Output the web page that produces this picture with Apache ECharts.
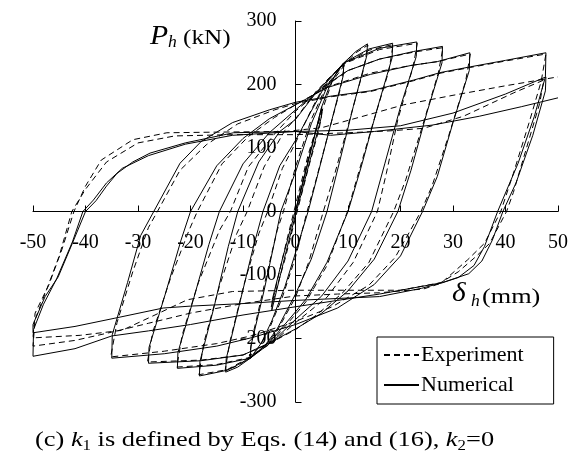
<!DOCTYPE html>
<html>
<head>
<meta charset="utf-8">
<script src="https://cdn.jsdelivr.net/npm/echarts@6/dist/echarts.min.js"></script>
<style>
  html, body { margin: 0; padding: 0; background: #fff; }
  #chart { width: 579px; height: 464px; }
</style>
</head>
<body>
<div id="chart"></div>
<script>
// Axis ranges: [min, max, interval]
var xRange = [-50, 50, 10];
var yRange = [-300, 300, 100];

var seriesNames = ['Experiment', 'Numerical'];

// Measured load–displacement history [delta_h (mm), P_h (kN)]
var experiment = [
  [0,0],[2,70],[3.5,118],[5.2,162],[4.5,130],[2.5,70],[0,-10],[-2,-75],[-4.6,-150],[-3.5,-110],[-1.5,-40],[0,10],[2.5,92],[5.2,162],
  [7,205],[9.3,230],
  [8.6,195],[6,115],[3.6,40],[2.2,0],[0,-72],[-2.5,-135],[-5,-185],[-7,-215],[-8.8,-228],
  [-8,-190],[-5.5,-100],[-3.5,-30],[-2.3,0],[0,70],[3,145],[6,200],[9.3,232],[11.5,250],[13.8,262],
  [13,225],[10.5,150],[7.5,60],[5.3,0],[2.5,-80],[0,-135],[-3.5,-188],[-6,-215],[-8.8,-230],[-11,-243],[-13.4,-250],
  [-12.5,-205],[-9.8,-115],[-7,-35],[-5.3,0],[-2.5,68],[0,108],[3,160],[6,207],[9.3,233],[14,254],[18.6,263],
  [17.8,222],[14.8,140],[11.8,55],[9.9,0],[6,-85],[2,-142],[0,-162],[-4,-200],[-8.8,-230],[-13,-249],[-18.4,-257],
  [-17.5,-208],[-14.5,-118],[-11.2,-35],[-9.2,0],[-6,70],[-2,128],[0,146],[4,190],[9.3,233],[16,255],[23.2,265],
  [22.4,228],[19.5,145],[17.3,60],[15.6,0],[11,-80],[6,-135],[0,-175],[-4,-204],[-8.8,-230],[-15,-241],[-22.6,-245],
  [-21.6,-195],[-18.5,-112],[-14.5,-30],[-12.4,0],[-9,70],[-4,122],[0,158],[5,193],[10,222],[16,240],[22.5,251],[28.1,258],
  [27.2,218],[24.2,135],[21,50],[18.7,0],[14,-80],[9,-128],[4,-163],[0,-186],[-5,-208],[-10,-226],[-18,-234],[-28.2,-237],
  [-27.2,-190],[-23.8,-105],[-20.3,-30],[-18.7,0],[-14,75],[-9,118],[-4,148],[0,168],[6,196],[14.3,218],[22,230],[27,236],[33.3,248],
  [32.4,205],[29.2,120],[26,40],[23.9,0],[19,-72],[14,-116],[7,-150],[0,-173],[-8,-195],[-15,-208],[-25,-220],[-35.2,-229],
  [-34,-175],[-31,-95],[-28,-25],[-26.3,0],[-22,65],[-17,105],[-11,138],[-4,160],[0,170],[7,181],[14.3,189],[22.5,206],[27.7,218],[33.4,227],[40,237],[47.7,248],
  [46.8,205],[44.5,140],[41.5,60],[39.1,0],[36,-50],[32.8,-76],[27.7,-113],[24.4,-122],[16,-128],[8,-130],[0,-133],[-10,-145],[-20,-160],[-28,-176],[-35,-190],[-42,-203],[-50,-212],
  [-49.6,-170],[-47.5,-125],[-45,-70],[-42.6,0],[-40,35],[-36,78],[-30,108],[-23,119],[-12,121],[0,121],[10,124],[18,127],[24.4,131],[32,150],[41.6,187],[47.3,207],
  [46.5,170],[44,100],[41.5,30],[40.2,0],[37,-50],[34.5,-70],[31,-95],[27.7,-112],[20,-124],[10,-124],[0,-124],[-12,-126],[-20.6,-139],[-26,-160],[-33,-187],[-41,-195],[-50,-199],
  [-49.6,-160],[-47,-116],[-44.5,-60],[-42.2,0],[-40,40],[-37,81],[-31,113],[-24.5,124],[-15,125],[-2,126],[5,132],[12,148],[20.6,168],[30,183],[40,198],[50,212]
];

// Computed load–displacement history [delta_h (mm), P_h (kN)]
var numerical = [
  [0,0],[1.5,48],[3,98],[5,165],[4.9,148],[3,88],[1,25],[0,-5],[-2,-70],[-4.5,-155],[-4.4,-138],[-2.5,-75],[0,2],[2,66],[3.5,115],[5,165],
  [6.5,198],[8,221],[9.2,234],
  [9.1,214],[6.8,140],[4.3,60],[2.4,0],[0,-65],[-2,-118],[-4.5,-172],[-6.5,-207],[-8.6,-231],
  [-8.5,-212],[-6,-125],[-4,-48],[-2.8,0],[0,62],[3,138],[6,196],[9.2,234],[11.5,252],[13.7,264],
  [13.6,246],[11,165],[8.3,75],[6,0],[3,-75],[0,-130],[-3.5,-185],[-6,-213],[-8.6,-231],[-11,-245],[-13.3,-253],
  [-13.2,-232],[-10.5,-140],[-8,-55],[-6.2,0],[-3,72],[0,112],[3,158],[6,204],[9.2,234],[14,256],[18.5,265],
  [18.4,242],[15.5,160],[12.5,70],[10,0],[6,-80],[2,-138],[0,-158],[-4,-197],[-8.6,-231],[-13,-250],[-18.3,-259],
  [-18.2,-236],[-15.5,-150],[-12.8,-55],[-11,0],[-7,78],[-3,126],[0,145],[4,188],[9.2,234],[16,257],[23.1,267],
  [23,244],[20,165],[17,75],[14.5,0],[10,-78],[5,-133],[0,-170],[-4,-202],[-8.6,-231],[-15,-242],[-22.5,-247],
  [-22.4,-222],[-19.5,-140],[-16.5,-52],[-14.5,0],[-10,75],[-5,124],[0,160],[5,195],[10,222],[16,240],[22.5,252],[28,260],
  [27.9,234],[25,155],[22,65],[19.5,0],[15,-75],[10,-125],[5,-160],[0,-185],[-5,-207],[-10,-226],[-18,-235],[-28,-239],
  [-27.9,-214],[-24.8,-130],[-21.8,-45],[-20,0],[-15,72],[-10,115],[-5,146],[0,168],[6,195],[14.3,216],[22,230],[27,236],[33.2,250],
  [33.1,222],[30,140],[27,55],[24.2,0],[20,-70],[15,-115],[8,-152],[0,-178],[-8,-198],[-15,-212],[-25,-224],[-35,-231],
  [-34.9,-194],[-32,-112],[-29.5,-38],[-27,0],[-22,76],[-18,110],[-12,140],[-5,160],[0,172],[7,182],[14.3,190],[22.5,207],[27.7,219],[33.4,228],[40,238],[47.7,250],
  [47.6,212],[45.5,150],[42.4,76],[38.5,0],[36,-55],[34,-85],[31,-104],[28,-112],[24,-118],[16,-130],[8,-140],[0,-150],[-10,-163],[-20,-178],[-28,-188],[-35,-196],[-42,-216],[-50,-228],
  [-49.9,-186],[-48,-146],[-45.5,-106],[-42.5,-48],[-40.5,0],[-38.5,18],[-36,45],[-33,68],[-28,88],[-21,106],[-12,120],[0,126],[10,128],[20,135],[30,155],[40,185],[47.7,212],
  [47.6,190],[45.2,120],[42,45],[39.5,0],[37.5,-45],[35.5,-78],[33,-98],[28,-112],[24,-121],[16,-134],[8,-137],[0,-140],[-10,-145],[-20,-149],[-25.2,-152],[-34.4,-168],[-42,-181],[-50,-191],
  [-50,-178],[-47.7,-134],[-45.2,-103],[-42.5,-50],[-40,0],[-38,17],[-36,40],[-34,60],[-31,78],[-27.7,92],[-21,108],[-11.8,124],[0,126],[6.7,120],[15,126],[26,136],[35,150],[43,165],[50,179]
];

var serif = '"Liberation Serif", "Times New Roman", serif';
var chart = echarts.init(document.getElementById('chart'), null, { renderer: 'canvas' });

// grid box in pixels; the axes are shifted onto the zero lines with offsets
var gridBox = { left: 33, top: 21, width: 525, height: 381 };
var zeroX = gridBox.left + gridBox.width * (0 - xRange[0]) / (xRange[1] - xRange[0]);
var zeroY = gridBox.top + gridBox.height * (yRange[1] - 0) / (yRange[1] - yRange[0]);

var axisCommon = {
  type: 'value',
  axisLine: { onZero: false, lineStyle: { color: '#000', width: 1 } },
  axisTick: { show: true, inside: true, length: 6, lineStyle: { color: '#000', width: 1 } },
  splitLine: { show: false },
  axisLabel: { color: '#000', fontFamily: serif, fontSize: 20 }
};

chart.setOption({
  animation: false,
  backgroundColor: '#fff',
  grid: {
    left: gridBox.left, top: gridBox.top, width: gridBox.width, height: gridBox.height,
    containLabel: false, outerBoundsMode: 'none'
  },
  xAxis: Object.assign({}, axisCommon, {
    position: 'bottom',
    offset: -(gridBox.top + gridBox.height - zeroY),
    min: xRange[0], max: xRange[1], interval: xRange[2],
    axisLabel: Object.assign({}, axisCommon.axisLabel, { margin: 21 })
  }),
  yAxis: Object.assign({}, axisCommon, {
    position: 'left',
    offset: -(zeroX - gridBox.left),
    min: yRange[0], max: yRange[1], interval: yRange[2],
    axisLabel: Object.assign({}, axisCommon.axisLabel, { margin: 19 })
  }),
  legend: {
    left: 377, top: 337,
    orient: 'vertical',
    backgroundColor: '#fff',
    borderColor: '#000', borderWidth: 1, borderRadius: 0,
    padding: [7, 30, 8, 6],
    itemWidth: 35, itemHeight: 20, itemGap: 8,
    itemStyle: { opacity: 0 },
    textStyle: { color: '#000', fontFamily: serif, fontSize: 22, padding: [0, 0, 0, -3] },
    data: seriesNames
  },
  series: [
    {
      name: seriesNames[0], type: 'line', data: experiment,
      symbol: 'none', clip: true, z: 2,
      lineStyle: { color: '#000', width: 1, type: [6, 4] },
      itemStyle: { color: '#000' }
    },
    {
      name: seriesNames[1], type: 'line', data: numerical,
      symbol: 'none', clip: true, z: 3,
      lineStyle: { color: '#000', width: 1, type: 'solid' },
      itemStyle: { color: '#000' }
    }
  ],
  graphic: [
    // vertical axis title: P_h (kN)
    { type: 'text', x: 150, y: 23, scaleX: 1.1, style: { text: 'P', font: 'italic 27px ' + serif, fill: '#000' } },
    { type: 'text', x: 168, y: 35, scaleX: 1.1, style: { text: 'h', font: 'italic 16px ' + serif, fill: '#000' } },
    { type: 'text', x: 183, y: 28, scaleX: 1.2, style: { text: '(kN)', font: '21px ' + serif, fill: '#000' } },
    // horizontal axis title: delta_h (mm)
    { type: 'text', x: 452, y: 280, scaleX: 1.05, style: { text: 'δ', font: 'italic 28px ' + serif, fill: '#000' } },
    { type: 'text', x: 471, y: 294, scaleX: 1.1, style: { text: 'h', font: 'italic 16px ' + serif, fill: '#000' } },
    { type: 'text', x: 482, y: 287, scaleX: 1.25, style: { text: '(mm)', font: '21px ' + serif, fill: '#000' } },
    // caption
    {
      type: 'text', x: 35, y: 427, scaleX: 1.2, originX: 0,
      style: {
        text: '{n|(c) }{i|k}{s|1}{n| is defined by Eqs. (14) and (16), }{i|k}{s|2}{n|=0}',
        fill: '#000',
        rich: {
          n: { fontFamily: serif, fontSize: 22, lineHeight: 26, verticalAlign: 'middle' },
          i: { fontFamily: serif, fontSize: 22, fontStyle: 'italic', lineHeight: 26, verticalAlign: 'middle' },
          s: { fontFamily: serif, fontSize: 14, lineHeight: 14, verticalAlign: 'bottom', padding: [9, 0, 0, 0] }
        }
      }
    }
  ]
});
</script>
</body>
</html>
